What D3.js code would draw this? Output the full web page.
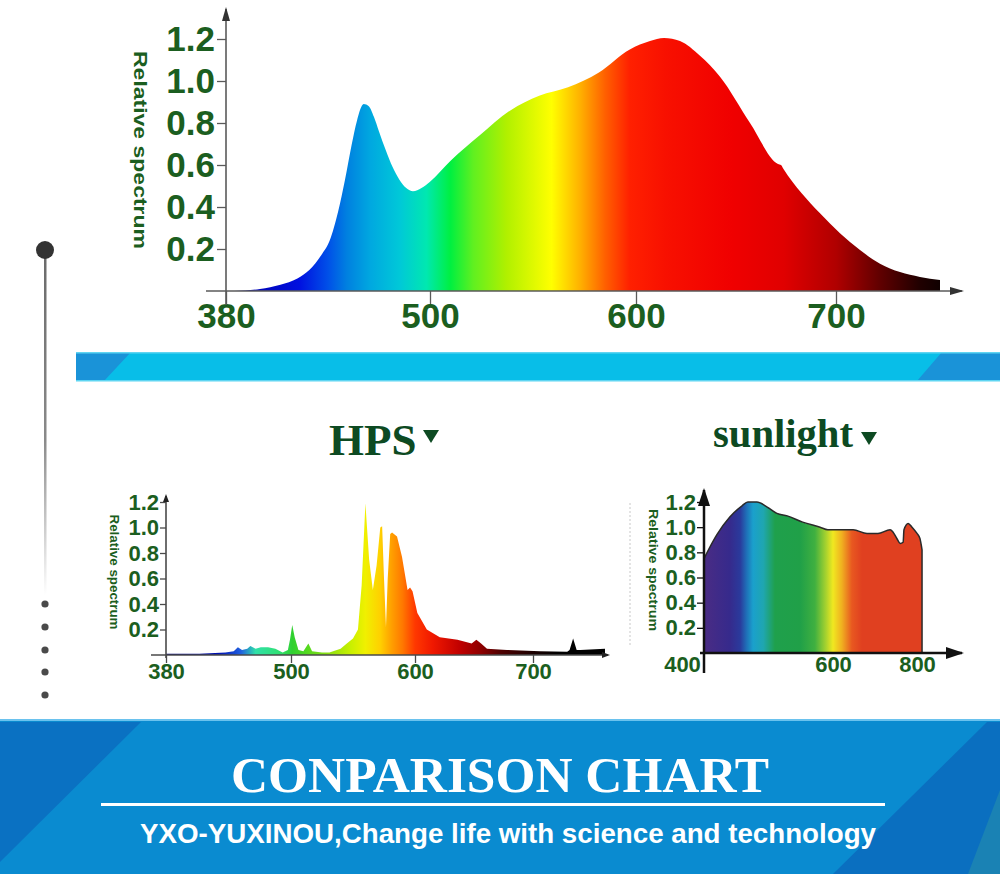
<!DOCTYPE html>
<html><head><meta charset="utf-8">
<script src="https://cdn.jsdelivr.net/npm/d3@7"></script>
<style>body{margin:0;background:#fff}svg{display:block}</style>
</head><body>
<svg id="c" width="1000" height="874"></svg>
<script>
// ---------- DATA ----------
const yTicks = [0.2, 0.4, 0.6, 0.8, 1.0, 1.2];

// LED full spectrum (top)
const topTicks = [380, 500, 600, 700];
const topWave  = [385,400,412,422,429,436,441,446,450,454,457,461,464,467,470,474,478,482,486,490,495,500,510,524,539,553,567,582,597,607,614,622,632,642,657,671,672.5,673.5,692,712,722,732,742,752];
const topValue = [0,0.01,0.03,0.06,0.10,0.17,0.24,0.38,0.53,0.70,0.81,0.89,0.88,0.83,0.76,0.67,0.59,0.53,0.49,0.475,0.49,0.52,0.62,0.74,0.86,0.93,0.97,1.04,1.15,1.19,1.205,1.19,1.12,1.02,0.80,0.605,0.60,0.585,0.37,0.195,0.13,0.09,0.067,0.052];

// HPS
const hpsTicks = [380, 500, 600, 700];
const hpsWave  = [380,412,437,445,449,453,458,461,466,471,478,485,492,497,499,501,503,506,510,514,517,525,531,540,545,550,554,557,560,563,566,569,572,573.5,575,576.6,578,580,581.5,585.5,589.5,594,596,598,602,610,621,636,648,652,656,661,678,706,729,731,734,737,740,761];
const hpsValue = [0.01,0.01,0.02,0.03,0.06,0.04,0.05,0.07,0.05,0.06,0.06,0.05,0.02,0.04,0.12,0.235,0.14,0.04,0.03,0.09,0.03,0.02,0.02,0.05,0.09,0.13,0.2,0.55,1.19,0.75,0.51,0.7,1.0,1.01,0.6,0.22,0.6,0.95,0.96,0.93,0.77,0.51,0.53,0.5,0.33,0.2,0.14,0.12,0.09,0.12,0.09,0.05,0.04,0.03,0.025,0.04,0.13,0.04,0.04,0.05];

// Sunlight
const sunTicks = [400, 600, 800];
const sunWave  = [400,420,440,459,468,482,498,513,529,553,580,592,617,648,681,707,736,743,752,760,767,769,779,788,800,807,812];
const sunValue = [0.75,0.94,1.08,1.17,1.2,1.2,1.16,1.11,1.09,1.04,1.0,0.98,0.98,0.98,0.95,0.95,0.98,0.96,0.91,0.87,0.88,0.98,1.03,1.0,0.95,0.91,0.82];

// colour ramps (wavelength -> colour)
const topStopW = [388,423,440,451,465,482,498,510,521,537,559,573,585,597,615,648,674,700,722,742,752];
const topStopC = ["#0000a8","#0010e0","#0050e8","#0080e0","#00a8e0","#00c8d8","#00e8b0","#00f040","#60f020","#b0f000","#ffff00","#ffb000","#ff6000","#ff2000","#f81000","#f00000","#e00000","#b00000","#600000","#200000","#100000"];
const hpsStopW = [380,430,452,466,490,501,512,531,548,560,572,581,590,600,615,638,655,672,697,720,761];
const hpsStopC = ["#000070","#0010b0","#2060e0","#30e0a8","#30e070","#30d030","#50d820","#90e010","#c8f000","#f0f000","#ffd000","#ffa000","#ff7800","#ff3800","#f01800","#c00000","#900000","#500000","#200000","#000000","#000000"];
const sunStopW = [400,440,456,466,476,492,510,549,572,588,600,621,645,669,812];
const sunStopC = ["#4a2c84","#362a8c","#2a3a9c","#1f70b8","#1aa0cc","#1fa6b0","#1fa04c","#20a048","#40b040","#a0d030","#f0e820","#f0b020","#e85820","#e04020","#e04020"];

// ---------- DRAW ----------
const svg = d3.select("#c");
const defs = svg.append("defs");
const green = "#1b5e20";

function gradient(id, x, ws, cs) {
  const x0 = x(ws[0]), x1 = x(ws[ws.length - 1]);
  const g = defs.append("linearGradient").attr("id", id)
    .attr("gradientUnits", "userSpaceOnUse")
    .attr("x1", x0).attr("x2", x1).attr("y1", 0).attr("y2", 0);
  ws.forEach((w, i) => g.append("stop")
    .attr("offset", (x(w) - x0) / (x1 - x0)).attr("stop-color", cs[i]));
}

function chart(o) {
  const x = d3.scaleLinear().domain(o.xDomain).range(o.xRange);
  const y = d3.scaleLinear().domain([0, 1.2]).range(o.yRange);
  const g = svg.append("g");
  gradient(o.id, x, o.stopW, o.stopC);
  const data = o.wave.map((w, i) => ({w, v: o.value[i]}));
  g.append("path").datum(data)
    .attr("d", d3.area().x(d => x(d.w)).y0(y(0)).y1(d => y(d.v)).curve(o.curve))
    .attr("fill", `url(#${o.id})`)
    .attr("stroke", o.outline || "none").attr("stroke-width", o.outlineW || 0)
    .attr("stroke-linejoin", "round");

  // y axis
  const ya = g.append("g").attr("transform", `translate(${o.xRange[0]},0)`)
    .call(d3.axisLeft(y).tickValues(yTicks).tickFormat(d3.format(".1f"))
      .tickSize(o.yTickSize).tickPadding(o.yPad));
  ya.select(".domain").remove();
  ya.selectAll("line").attr("stroke", o.axisColor).attr("stroke-width", 1.3);
  ya.selectAll("text").attr("fill", green).style("font-family", "Liberation Sans, Arial, sans-serif")
    .style("font-weight", "bold").style("font-size", o.labelSize + "px");

  // x axis
  const xa = g.append("g").attr("transform", `translate(0,${y(0)})`)
    .call(d3.axisBottom(x).tickValues(o.xTicks).tickSize(o.xTickSize).tickPadding(o.xPad));
  xa.select(".domain").remove();
  xa.selectAll("line").attr("stroke", o.axisColor).attr("stroke-width", 1.3);
  xa.selectAll("text").attr("fill", green).style("font-family", "Liberation Sans, Arial, sans-serif")
    .style("font-weight", "bold").style("font-size", o.labelSize + "px");
  if (o.xLabelShift) xa.selectAll(".tick text").attr("dx", (d) => o.xLabelShift[d] || 0);

  // axis lines with arrows
  const ax = o.xRange[0], ay = y(0);
  g.append("line").attr("x1", ax).attr("x2", ax).attr("y1", ay + o.yBelow).attr("y2", o.yTop)
    .attr("stroke", o.axisColor).attr("stroke-width", o.axisW);
  g.append("line").attr("x1", ax - o.xLeft).attr("x2", o.xEnd).attr("y1", ay).attr("y2", ay)
    .attr("stroke", o.axisColor).attr("stroke-width", o.axisW);
  const a = o.arrow;
  g.append("path").attr("d", `M${ax},${o.yTop - 2}L${ax - a[1]},${o.yTop + a[0]}L${ax + a[1]},${o.yTop + a[0]}Z`).attr("fill", o.arrowColor);
  g.append("path").attr("d", `M${o.xEnd + 2},${ay}L${o.xEnd - a[0]},${ay - a[1]}L${o.xEnd - a[0]},${ay + a[1]}Z`).attr("fill", o.arrowColor);

  // axis title
  g.append("text").attr("transform", `translate(${o.titleX},${o.titleY}) rotate(90)`)
    .attr("text-anchor", "middle").attr("fill", green)
    .attr("textLength", o.titleLen).attr("lengthAdjust", "spacingAndGlyphs")
    .style("font-family", "Liberation Sans, Arial, sans-serif").style("font-weight", "bold")
    .style("font-size", o.titleSize + "px").text("Relative spectrum");
  return {x, y};
}

// top LED chart
chart({id: "gTop", wave: topWave, value: topValue, stopW: topStopW, stopC: topStopC,
  xDomain: topTicks, xRange: [226, 430, 636, 836], yRange: [291, 39], xTicks: topTicks,
  curve: d3.curveMonotoneX, axisColor: "#5a5a5a", axisW: 1.6, arrowColor: "#333",
  yTickSize: 9, yPad: 2, xTickSize: 15, xPad: -3, labelSize: 35,
  yBelow: 14, yTop: 9, xLeft: 20, xEnd: 962, arrow: [12, 4],
  titleX: 134, titleY: 150, titleLen: 198, titleSize: 19});

// HPS chart
chart({id: "gHps", wave: hpsWave, value: hpsValue, stopW: hpsStopW, stopC: hpsStopC,
  xDomain: hpsTicks, xRange: [166, 291, 415, 533], yRange: [655, 502], xTicks: hpsTicks,
  curve: d3.curveLinear, axisColor: "#4a4a4a", axisW: 1.6, arrowColor: "#222",
  yTickSize: 6, yPad: 1, xTickSize: 8, xPad: 0, labelSize: 22,
  yBelow: 3, yTop: 496, xLeft: 15, xEnd: 608, arrow: [6, 3],
  titleX: 110, titleY: 572, titleLen: 115, titleSize: 13});

// Sunlight chart
chart({id: "gSun", wave: sunWave, value: sunValue, stopW: sunStopW, stopC: sunStopC,
  xDomain: sunTicks, xRange: [704, 833, 917], yRange: [653, 502], xTicks: sunTicks,
  curve: d3.curveMonotoneX, outline: "#2a2a2a", outlineW: 1.5,
  axisColor: "#111", axisW: 2.5, arrowColor: "#111",
  yTickSize: 7, yPad: 1, xTickSize: 0, xPad: 3, labelSize: 22,
  yBelow: 20, yTop: 490, xLeft: 4, xEnd: 962, arrow: [16, 6],
  xLabelShift: {400: -22},
  titleX: 649, titleY: 570, titleLen: 122, titleSize: 13});

// faint dotted guide left of sunlight chart
svg.append("line").attr("x1", 630).attr("x2", 630).attr("y1", 503).attr("y2", 646)
  .attr("stroke", "#c8c8c8").attr("stroke-width", 1).attr("stroke-dasharray", "2,2");

// headings
const serif = "Liberation Serif, Times New Roman, serif";
svg.append("text").attr("x", 329).attr("y", 455).attr("fill", "#0d4a22")
  .style("font-family", serif).style("font-weight", "bold").style("font-size", "45px").text("HPS");
svg.append("path").attr("d", "M423,430L439,430L431,443Z").attr("fill", "#0d4a22");
svg.append("text").attr("x", 713).attr("y", 447).attr("fill", "#0d4a22")
  .attr("textLength", 140).attr("lengthAdjust", "spacingAndGlyphs")
  .style("font-family", serif).style("font-weight", "bold").style("font-size", "40px").text("sunlight");
svg.append("path").attr("d", "M861,432L877,432L869,445Z").attr("fill", "#0d4a22");

// blue band
svg.append("rect").attr("x", 76).attr("y", 352).attr("width", 924).attr("height", 29).attr("fill", "#08bee8");
svg.append("path").attr("d", "M76,352L131,352L104,381L76,381Z").attr("fill", "#1a93d8");
svg.append("path").attr("d", "M942,352L1000,352L1000,381L917,381Z").attr("fill", "#1a93d8");
svg.append("rect").attr("x", 76).attr("y", 352).attr("width", 924).attr("height", 1.5).attr("fill", "#5fd5f2");
svg.append("rect").attr("x", 76).attr("y", 380).attr("width", 924).attr("height", 1.5).attr("fill", "#5fd5f2");

// left timeline decoration
const lg = defs.append("linearGradient").attr("id", "lineFade").attr("x1", 0).attr("x2", 0).attr("y1", 0).attr("y2", 1);
lg.append("stop").attr("offset", 0).attr("stop-color", "#6a6a6a");
lg.append("stop").attr("offset", 0.55).attr("stop-color", "#8a8a8a");
lg.append("stop").attr("offset", 1).attr("stop-color", "#ffffff");
svg.append("rect").attr("x", 44).attr("y", 250).attr("width", 2.5).attr("height", 345).attr("fill", "url(#lineFade)");
svg.append("circle").attr("cx", 45).attr("cy", 250).attr("r", 9).attr("fill", "#333");
[604, 627, 650, 672, 695].forEach(cy => svg.append("circle").attr("cx", 45).attr("cy", cy).attr("r", 3.6).attr("fill", "#4a4a4a"));

// bottom banner
svg.append("rect").attr("x", 0).attr("y", 720).attr("width", 1000).attr("height", 154).attr("fill", "#0a8bd0");
svg.append("path").attr("d", "M0,722L141,722L0,862Z").attr("fill", "#0a71c2");
svg.append("path").attr("d", "M987,722L1000,722L1000,874L833,874Z").attr("fill", "#0a6fc0");
svg.append("path").attr("d", "M1000,790L1000,874L968,874Z").attr("fill", "#1a82b4");
svg.append("rect").attr("x", 0).attr("y", 719).attr("width", 1000).attr("height", 2).attr("fill", "#6ac2ee");
svg.append("text").attr("x", 500).attr("y", 792).attr("text-anchor", "middle").attr("fill", "#fff")
  .attr("textLength", 538).attr("lengthAdjust", "spacingAndGlyphs")
  .style("font-family", serif).style("font-weight", "bold").style("font-size", "50px").text("CONPARISON CHART");
svg.append("rect").attr("x", 101).attr("y", 803).attr("width", 784).attr("height", 3).attr("fill", "#fff");
svg.append("text").attr("x", 508).attr("y", 843).attr("text-anchor", "middle").attr("fill", "#fff")
  .attr("textLength", 736).attr("lengthAdjust", "spacingAndGlyphs")
  .style("font-family", "Liberation Sans Narrow, Liberation Sans, Arial, sans-serif").style("font-weight", "bold")
  .style("font-size", "27px").text("YXO-YUXINOU,Change life with science and technology");
</script>
</body></html>
